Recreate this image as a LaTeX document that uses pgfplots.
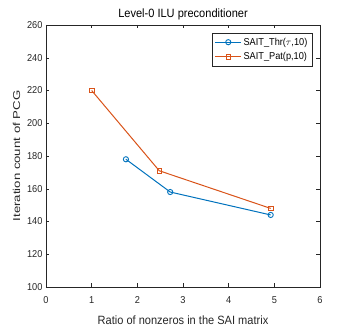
\documentclass[border=0pt]{standalone}
\usepackage{fontspec}
\setmainfont[FakeStretch=0.92]{Liberation Sans}
\newfontfamily\ylfont[FakeStretch=1.32]{Liberation Sans}
\usepackage{pgfplots}
\pgfplotsset{compat=1.18}
\definecolor{mblue}{rgb}{0,0.447,0.741}
\definecolor{morange}{rgb}{0.85,0.325,0.098}
\definecolor{axgray}{rgb}{0.15,0.15,0.15}
\begin{document}
\begin{tikzpicture}[x=1pt,y=1pt]
\path[use as bounding box] (-46,-40) rectangle (308,287);
\begin{axis}[
  at={(0,0)}, anchor=south west,
  scale only axis, width=274pt, height=262pt,
  xmin=0, xmax=6, ymin=100, ymax=260,
  xtick={0,1,...,6}, ytick={100,120,...,260},
  tick align=inside, major tick length=3.5pt,
  tick style={axgray, line width=0.4pt},
  axis line style={axgray, line width=0.5pt},
  every tick label/.append style={font=\fontsize{10}{11}\selectfont, text=axgray},
  xticklabel style={yshift=-6pt},
  /pgf/number format/assume math mode=true,
  /pgf/number format/1000 sep={},
  title={Level-0 ILU preconditioner},
  title style={font=\fontsize{12}{13}\selectfont, yshift=-5pt},
  xlabel={Ratio of nonzeros in the SAI matrix},
  ylabel={\ylfont Iteration count of PCG},
  xlabel style={font=\fontsize{12}{13}\selectfont, text=axgray, yshift=-5.5pt},
  ylabel style={font=\fontsize{10}{11}\selectfont, text=axgray, yshift=0pt},
  legend style={at={(0.971,0.969)}, anchor=north east, font=\fontsize{10}{11}\selectfont, draw=axgray, line width=0.4pt, inner sep=2.5pt, row sep=2pt},
  legend cell align=left,
  legend image code/.code={\draw[mark repeat=2,mark phase=2] plot coordinates {(0cm,0cm) (0.45cm,0cm) (0.9cm,0cm)};},
]
\addplot[mblue, line width=1pt, mark=o, mark size=2.6pt, mark options={solid, line width=0.9pt}]
  coordinates {(1.75,178) (2.72,158) (4.92,144)};
\addlegendentry{SAIT\_Thr($\tau$,10)}
\addplot[morange, line width=1pt, mark=square, mark size=2.3pt, mark options={solid, line width=0.9pt}]
  coordinates {(1.0,220) (2.48,171) (4.92,148)};
\addlegendentry{SAIT\_Pat(p,10)}
\end{axis}
\end{tikzpicture}
\end{document}
